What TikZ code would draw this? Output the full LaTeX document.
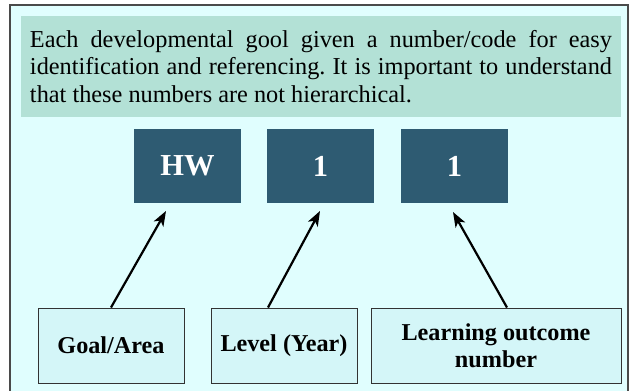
\documentclass[tikz,border=0pt]{standalone}
\usepackage{fontspec}
\setmainfont{Liberation Serif}
\usetikzlibrary{arrows.meta}
\definecolor{bgcyan}{HTML}{E0FEFE}
\definecolor{notegreen}{HTML}{B3E1D6}
\definecolor{codeblue}{HTML}{2E5B72}
\definecolor{labelfill}{HTML}{D4F6F8}
\definecolor{framegray}{HTML}{4A4A4A}
\tikzset{
  notebox/.style={fill=notegreen, minimum width=600pt, minimum height=101pt, inner sep=0pt,
    text width=582pt, align=justify, font=\fontsize{24.3}{27.5}\selectfont\frenchspacing},
  codebox/.style={fill=codeblue, minimum width=107pt, minimum height=74pt, inner sep=0pt,
    text=white, font=\fontsize{30.5}{34}\selectfont\bfseries},
  labelbox/.style={fill=labelfill, draw=black!80, line width=1pt, minimum height=75pt, inner sep=0pt,
    align=center, font=\fontsize{24.2}{26.5}\selectfont\bfseries},
  arr/.style={-{Stealth[length=15pt,width=11pt,inset=4pt]}, line width=2.2pt, black},
}
\begin{document}
\begin{tikzpicture}[x=1pt,y=-1pt]
\useasboundingbox (0,0) rectangle (635,391);
\clip (0,0) rectangle (635,391);
\fill[white] (0,0) rectangle (635,391);
\draw[fill=bgcyan, draw=framegray, line width=1.6pt] (10,5) rectangle (628,405);
\node[notebox] (note) at (321,66.5) {Each developmental gool given a number/code for easy\linebreak identification and referencing. It is important to understand\linebreak that these numbers are not hierarchical.};
\node[codebox] (hw) at (187.5,166) {HW};
\node[codebox] (n1) at (320.5,166) {1};
\node[codebox] (n2) at (454.5,166) {1};
\node[labelbox, minimum width=146pt] (ga) at (111,345.5) {Goal/Area};
\node[labelbox, minimum width=146pt] (lv) at (284,345.5) {Level (Year)};
\node[labelbox, minimum width=250pt] (lo) at (496,345.5) {Learning outcome\\number};
\coordinate (t1) at (166,211);
\coordinate (t2) at (320,211);
\coordinate (t3) at (453,212);
\draw[arr] (ga.north) -- (t1);
\draw[arr] ([xshift=-16pt]lv.north) -- (t2);
\draw[arr] ([xshift=11pt]lo.north) -- (t3);
\end{tikzpicture}
\end{document}
